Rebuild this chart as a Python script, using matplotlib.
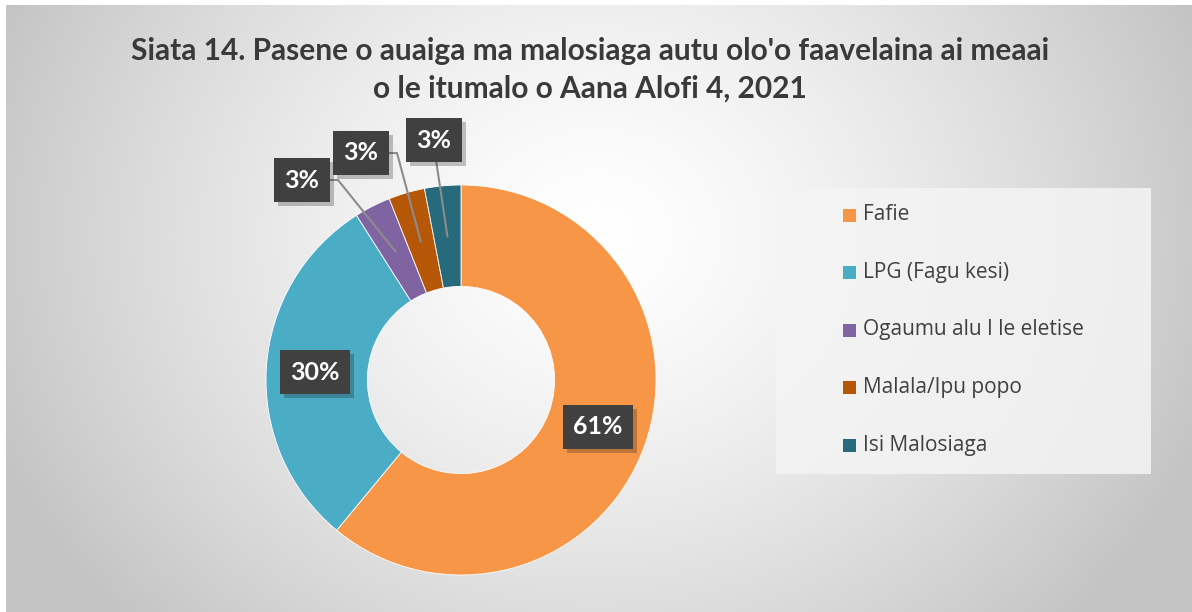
import numpy as np
import matplotlib
matplotlib.use("Agg")
import matplotlib.pyplot as plt
from matplotlib.patches import Rectangle
import matplotlib.patheffects as pe

# ---- data ----
categories = ["Fafie", "LPG (Fagu kesi)", "Ogaumu alu I le eletise", "Malala/Ipu popo", "Isi Malosiaga"]
values = [61, 30, 3, 3, 3]
pct_labels = ["61%", "30%", "3%", "3%", "3%"]
colors = ["#F79646", "#4BACC6", "#8064A2", "#B65708", "#276A7C"]
title = "Siata 14. Pasene o auaiga ma malosiaga autu olo'o faavelaina ai meaai\no le itumalo o Aana Alofi 4, 2021"

W, H = 1192, 612
fig = plt.figure(figsize=(W / 100, H / 100), dpi=100)
fig.patch.set_facecolor("white")

# ---- background radial gradient ----
bg = fig.add_axes([6 / W, 0, (W - 6) / W, (H - 5) / H], zorder=-10)
yy, xx = np.mgrid[0:H - 5, 0:W - 6]
cx, cy = 590, 230
d = np.sqrt(((xx - cx) / 1.15) ** 2 + (yy - cy) ** 2)
t = np.clip(d / 560, 0, 1) ** 1.4
g = 1.0 - t * (1.0 - 0.77)
img = np.dstack([g, g, g])
bg.imshow(img, aspect="auto", extent=[0, 1, 0, 1], interpolation="bilinear")
bg.set_axis_off()

# ---- donut ----
cxp, cyp, R = 461, 380, 195
ax = fig.add_axes([(cxp - R) / W, (H - cyp - R) / H, 2 * R / W, 2 * R / H])
width = 0.52
wedges, _ = ax.pie(values, colors=colors, startangle=90, counterclock=False,
                   radius=1.0, wedgeprops=dict(width=width, edgecolor="white", linewidth=0.6))
ax.set_xlim(-1, 1)
ax.set_ylim(-1, 1)
ax.set_axis_off()

def px2d(px, py):
    return ((px - cxp) / R, (cyp - py) / R)

# label box centres (pixels)
label_pos = [(598, 427), (315, 372), (302, 180), (361, 153), (434, 140)]
rmid = 1 - width / 2
for i, (w, lab) in enumerate(zip(wedges, pct_labels)):
    ang = np.deg2rad((w.theta1 + w.theta2) / 2)
    mx, my = rmid * np.cos(ang), rmid * np.sin(ang)
    lx, ly = px2d(*label_pos[i])
    if i >= 2:
        if i == 4:
            sx, sy = px2d(label_pos[i][0] + 2, label_pos[i][1] + 20)
            ax.plot([sx, mx], [sy, my], color="#8c8c8c", lw=1.5, zorder=3, clip_on=False)
        else:
            ex, ey = px2d(label_pos[i][0] + 25, label_pos[i][1])
            kx, ky = px2d(label_pos[i][0] + 36, label_pos[i][1])
            ax.plot([ex, kx, mx], [ey, ky, my], color="#8c8c8c", lw=1.5, zorder=3, clip_on=False)
    txt = ax.text(lx, ly, lab, ha="center", va="center", fontsize=18, fontweight="bold",
                  family="Lato", color="white",
                  bbox=dict(boxstyle="square,pad=0.42", fc="#404040", ec="none"), zorder=5, clip_on=False)
    txt.get_bbox_patch().set_path_effects([pe.SimplePatchShadow(offset=(3, -3), alpha=0.25), pe.Normal()])

# ---- title ----
fig.text(590 / W, 1 - 70 / H, title, ha="center", va="center", fontsize=21.5, fontweight="bold",
         family="Lato", color="#3a3a3a", linespacing=1.4)

# ---- legend ----
fig.patches.append(Rectangle((776 / W, 1 - 474 / H), (1151 - 776) / W, (474 - 188) / H,
                             transform=fig.transFigure, fc="#f4f4f4", ec="none", alpha=0.85, zorder=1))
ys = [215, 272.5, 330, 387, 445]
for c, lab, y in zip(colors, categories, ys):
    fig.patches.append(Rectangle((843 / W, 1 - (y + 7) / H), 13 / W, 13 / H,
                                 transform=fig.transFigure, fc=c, ec="none", zorder=2))
    fig.text(863 / W, 1 - y / H, lab, ha="left", va="center", fontsize=15, family="Open Sans",
             color="#404040", zorder=3)

fig.savefig("out.png", dpi=100)
